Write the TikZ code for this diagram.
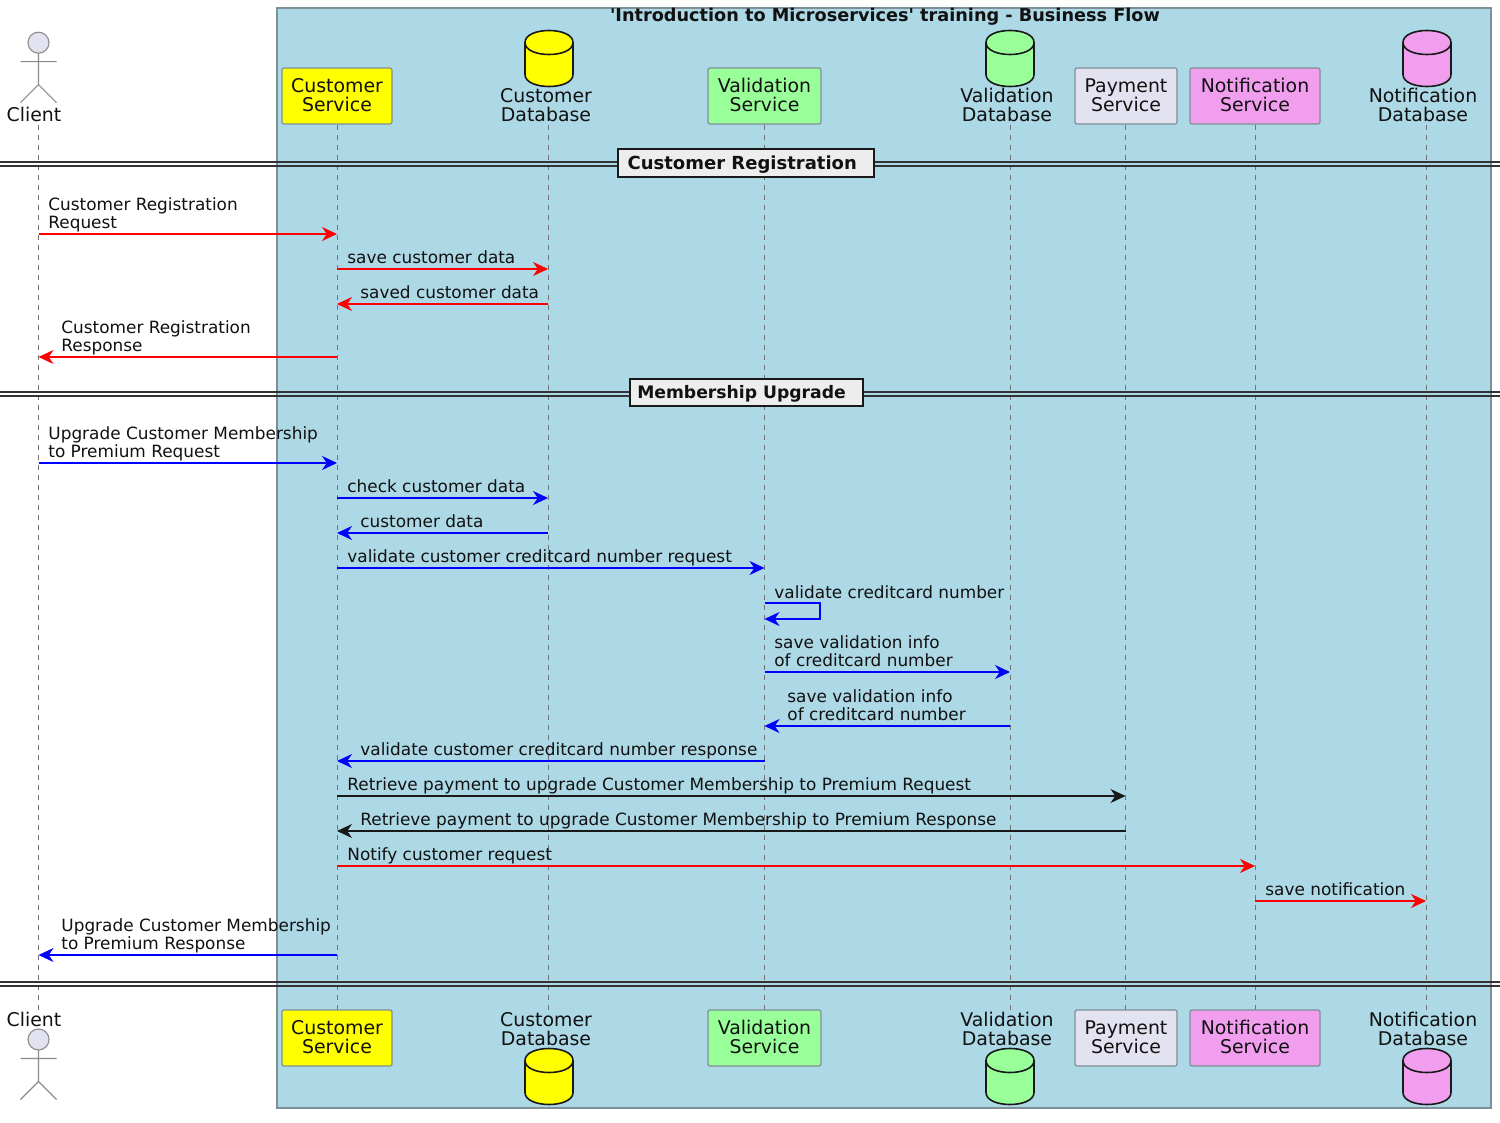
\documentclass[tikz,border=0pt]{standalone}
\usepackage{fontspec}
\setmainfont{DejaVu Sans}
\newfontfamily\plainf{DejaVu Sans}
\usetikzlibrary{arrows.meta}
\definecolor{grpblue}{HTML}{ADD8E6}
\definecolor{actfill}{HTML}{E2E2F0}
\definecolor{cyellow}{HTML}{FFFF00}
\definecolor{vgreen}{HTML}{99FF99}
\definecolor{npink}{HTML}{F19EEF}
\definecolor{txt}{HTML}{111111}
\definecolor{edgegray}{HTML}{7F8F95}
\definecolor{mred}{HTML}{FF0000}
\definecolor{mblue}{HTML}{0000FF}
\definecolor{mblack}{HTML}{181818}
\tikzset{
  x=0.5pt,y=-0.5pt,
  txtbase/.style={font=\fontsize{8.45}{9.1}\selectfont,text=txt,inner sep=0pt,align=left},
  partbox/.style={draw=edgegray,line width=0.6pt,rounded corners=1pt,inner sep=0pt,
     font=\fontsize{9.45}{9.7}\selectfont,text=txt,align=center},
  partlabel/.style={font=\fontsize{9.45}{9.7}\selectfont,text=txt,inner sep=0pt,align=center},
  lifeline/.style={draw=black!55,line width=0.5pt,dash pattern=on 2.5pt off 2.5pt},
  msgline/.style={line width=0.6pt,-{Stealth[inset=2.4pt,length=7.5pt,width=7pt]}},
  divline/.style={draw=black!80,line width=0.7pt},
  divbox/.style={draw=black!90,line width=1.1pt,fill=black!7,inner sep=0pt,text=txt},
  dbshape/.style={draw=black!90,line width=0.8pt},
  actorline/.style={draw=black!45,line width=0.55pt},
}
\newcommand{\dbsym}[3]{% x, top y, fill
  \path[dbshape,fill=#3] (#1-24,#2+12) .. controls (#1-24,#2-4) and (#1+24,#2-4) .. (#1+24,#2+12)
    -- (#1+24,#2+44) .. controls (#1+24,#2+60) and (#1-24,#2+60) .. (#1-24,#2+44) -- cycle;
  \path[dbshape] (#1-24,#2+12) .. controls (#1-24,#2+28) and (#1+24,#2+28) .. (#1+24,#2+12);
}
\newcommand{\actorsym}[2]{% x, head centre y
  \draw[actorline,fill=actfill] (#1,#2) circle (10.5);
  \draw[actorline] (#1,#2+10.5) -- (#1,#2+42) (#1-18,#2+19) -- (#1+18,#2+19)
    (#1-18,#2+60) -- (#1,#2+42) -- (#1+18,#2+60);
}
\newcommand{\pfix}{\rule[-1pt]{0pt}{0pt}}
\newcommand{\dfix}[2]{\rule{0pt}{8.3pt}\rule[-1.9pt]{0pt}{0pt}#1\kern#2pt}
\begin{document}
\begin{tikzpicture}
\useasboundingbox (0,0) rectangle (1500,1123);
\fill[white] (0,0) rectangle (1500,1123);
\draw[draw=edgegray,fill=grpblue,line width=0.8pt] (277,8) rectangle (1491,1108);
\node[font=\plainf\bfseries\fontsize{8.84}{10}\selectfont,text=txt,inner sep=0pt] (title) at (885,16.5) {'Introduction to Microservices' training - Business Flow};

% lifeline anchors
\coordinate (cl) at (38.5,125);  \coordinate (clb) at (38.5,1010);
\coordinate (cs) at (337,125);   \coordinate (csb) at (337,1010);
\coordinate (cd) at (548,125);   \coordinate (cdb) at (548,1010);
\coordinate (vs) at (764.5,125); \coordinate (vsb) at (764.5,1010);
\coordinate (vd) at (1010,125);  \coordinate (vdb) at (1010,1010);
\coordinate (ps) at (1125.5,125);\coordinate (psb) at (1125.5,1010);
\coordinate (ns) at (1255,125);  \coordinate (nsb) at (1255,1010);
\coordinate (nd) at (1426,125);  \coordinate (ndb) at (1426,1010);
\foreach \a/\b in {cl/clb,cs/csb,cd/cdb,vs/vsb,vd/vdb,ps/psb,ns/nsb,nd/ndb} \draw[lifeline] (\a) -- (\b);

% dividers
\foreach \yy in {162,166,392,396,982,986} \draw[divline] (0,\yy) -- (1500,\yy);
\node[divbox,font=\plainf\bfseries\fontsize{9}{10}\selectfont,minimum width=128pt,minimum height=14pt] (dv1) at (746,163) {\dfix{Customer Registration}{3.75}};
\node[divbox,font=\plainf\bfseries\fontsize{8.6}{10}\selectfont,minimum width=116.5pt,minimum height=13.5pt] (dv2) at (746.5,392.5) {\dfix{Membership Upgrade}{5}};

% top participants
\actorsym{38.5}{42.7}
\node[partlabel] (clTop) at (34,114) {Client};
\node[partbox,fill=cyellow,minimum width=55pt,minimum height=28pt] (csTop) at (337,96) {Customer\\Service\pfix};
\dbsym{549}{30.5}{cyellow}
\node[partlabel] (cdTop) at (546,105) {Customer\\Database};
\node[partbox,fill=vgreen,minimum width=56.5pt,minimum height=28pt] (vsTop) at (764.5,96) {Validation\\Service\pfix};
\dbsym{1010}{30.5}{vgreen}
\node[partlabel] (vdTop) at (1007,105) {Validation\\Database};
\node[partbox,fill=actfill,minimum width=51pt,minimum height=28pt] (psTop) at (1126,96) {Payment\\Service\pfix};
\node[partbox,fill=npink,minimum width=65pt,minimum height=28pt] (nsTop) at (1255,96) {Notification\\Service\pfix};
\dbsym{1427}{30.5}{npink}
\node[partlabel] (ndTop) at (1423,105) {Notification\\Database};

% bottom participants
\actorsym{38.5}{1039.5}
\node[partlabel] (clBot) at (34,1019) {Client};
\node[partbox,fill=cyellow,minimum width=55pt,minimum height=28pt] (csBot) at (337,1038) {Customer\\Service\pfix};
\dbsym{549}{1048.5}{cyellow}
\node[partlabel] (cdBot) at (546,1029) {Customer\\Database};
\node[partbox,fill=vgreen,minimum width=56.5pt,minimum height=28pt] (vsBot) at (764.5,1038) {Validation\\Service\pfix};
\dbsym{1010}{1048.5}{vgreen}
\node[partlabel] (vdBot) at (1007,1029) {Validation\\Database};
\node[partbox,fill=actfill,minimum width=51pt,minimum height=28pt] (psBot) at (1126,1038) {Payment\\Service\pfix};
\node[partbox,fill=npink,minimum width=65pt,minimum height=28pt] (nsBot) at (1255,1038) {Notification\\Service\pfix};
\dbsym{1427}{1048.5}{npink}
\node[partlabel] (ndBot) at (1423,1029) {Notification\\Database};

% messages: \m{colour}{from}{to}{y}{label x}{label}
\newcommand{\m}[6]{%
  \draw[msgline,draw=#1] (#2 |- 0,#4) -- (#3 |- 0,#4);
  \node[txtbase,anchor=south west] at (#5,#4-1) {#6\rule[-2pt]{0pt}{0pt}};
}
\m{mred}{cl}{cs}{234}{48}{Customer Registration\\Request}
\m{mred}{cs}{cd}{269}{347}{save customer data}
\m{mred}{cd}{cs}{304}{360}{saved customer data}
\m{mred}{cs}{cl}{357}{61}{Customer Registration\\Response}
\m{mblue}{cl}{cs}{463}{48}{Upgrade Customer Membership\\to Premium Request}
\m{mblue}{cs}{cd}{498}{347}{check customer data}
\m{mblue}{cd}{cs}{533}{360}{customer data}
\m{mblue}{cs}{vs}{568}{347}{validate customer creditcard number request}
\node[txtbase,anchor=south west] (selfl) at (774,602.5) {validate creditcard number\rule[-2pt]{0pt}{0pt}};
\coordinate (selfa) at (vs |- 0,603);
\coordinate (selfb) at (820,603);
\coordinate (selfc) at (820,619);
\coordinate (selfd) at (vs |- 0,619);
\draw[msgline,draw=mblue] (selfa) -- (selfb) -- (selfc) -- (selfd);
\m{mblue}{vs}{vd}{672}{774}{save validation info\\of creditcard number}
\m{mblue}{vd}{vs}{726}{787}{save validation info\\of creditcard number}
\m{mblue}{vs}{cs}{761}{360}{validate customer creditcard number response}
\m{mblack}{cs}{ps}{796}{347}{Retrieve payment to upgrade Customer Membership to Premium Request}
\m{mblack}{ps}{cs}{831}{360}{Retrieve payment to upgrade Customer Membership to Premium Response}
\m{mred}{cs}{ns}{866}{347}{Notify customer request}
\m{mred}{ns}{nd}{901}{1265}{save notification}
\m{mblue}{cs}{cl}{955}{61}{Upgrade Customer Membership\\to Premium Response}
\end{tikzpicture}
\end{document}
